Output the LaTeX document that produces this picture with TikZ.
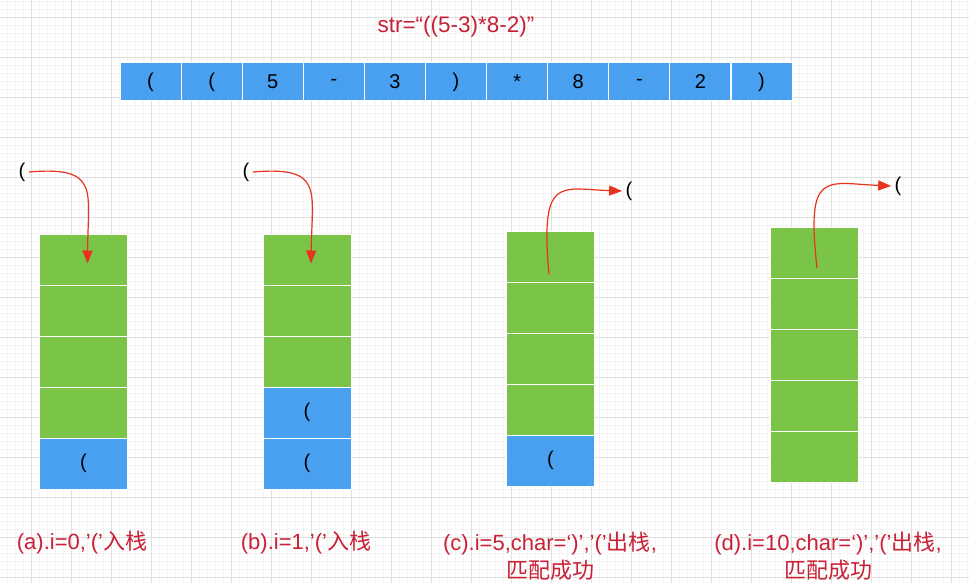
\documentclass[tikz,border=0pt]{standalone}
\usepackage{fontspec}
\setmainfont{Liberation Sans}
\newfontfamily\cjk{Noto Sans CJK SC}
\usetikzlibrary{arrows.meta, positioning}
\definecolor{cellblue}{RGB}{74,160,240}
\definecolor{cellgreen}{RGB}{122,196,72}
\definecolor{labelred}{RGB}{200,32,52}
\definecolor{flowred}{RGB}{232,52,30}
\definecolor{gridminor}{RGB}{243,243,243}
\definecolor{gridmajor}{RGB}{224,224,224}

\begin{document}
\begin{tikzpicture}[
  x=1pt, y=-1pt,
  every node/.style={font=\fontsize{20}{24}\selectfont},
  chr/.style={draw=white, line width=1pt, fill=cellblue, minimum width=61pt,
              minimum height=38pt, inner sep=0pt},
  slot/.style={draw=white, line width=1pt, fill=cellgreen, minimum width=88pt,
               minimum height=51pt, inner sep=0pt},
  pushed/.style={slot, fill=cellblue},
  caption/.style={text=labelred, align=center, font=\fontsize{22}{28}\selectfont},
  flow/.style={draw=flowred, line width=1.2pt, -{Triangle[length=13pt,width=10pt]}},
]
\useasboundingbox (0,0) rectangle (969,583);

% background grid
\foreach \gx in {7,15,...,967} \draw[gridminor, line width=0.5pt] (\gx,0) -- (\gx,583);
\foreach \gy in {1,9,...,583} \draw[gridminor, line width=0.5pt] (0,\gy) -- (969,\gy);
\foreach \gx in {31,71,...,951} \draw[gridmajor, line width=0.6pt] (\gx,0) -- (\gx,583);
\foreach \gy in {17,57,...,577} \draw[gridmajor, line width=0.6pt] (0,\gy) -- (969,\gy);

% the string
\node[text=labelred, font=\fontsize{22.5}{24}\selectfont] (title) at (456,27) {str=“((5-3)*8-2)”};
\foreach \t [count=\i] in {{(},{(},5,-,3,{)},*,8,-,2,{)}}
  \node[chr] (s\i) at ({120+61.1*(\i-0.5)},82) {\t};

% stacks
\foreach \s/\x/\y/\nb in {a/83.5/259.5/1, b/307/259.5/2, c/550.5/256.5/1, d/814.5/252.5/0}
  \foreach \k in {1,...,5}{
    \ifnum\k>\numexpr5-\nb\relax
      \node[pushed] (\s\k) at (\x,{\y+51*(\k-1)}) {(};
    \else
      \node[slot] (\s\k) at (\x,{\y+51*(\k-1)}) {};
    \fi
  };

% pushed / popped chars
\node (pa) at (22,172) {(};
\node (pb) at (246,172) {(};
\node (pc) at (629,191) {(};
\node (pd) at (898,186) {(};

\draw[flow] (pa.east) .. controls (100,166) and (88,190) .. ([xshift=4pt,yshift=-4pt]a1.center);
\draw[flow] (pb.east) .. controls (324,166) and (312,190) .. ([xshift=4pt,yshift=-4pt]b1.center);
\draw[flow] ([xshift=-1.5pt,yshift=-18pt]c1.center) .. controls (540,175) and (560,189) .. (pc.west);
\draw[flow] ([xshift=2.5pt,yshift=-15.5pt]d1.center) .. controls (806,170) and (825,183) .. (pd.west);

% captions
\node[caption] (la) at (82,543) {(a).i=0,’(’{\cjk 入栈}};
\node[caption] (lb) at (306,543) {(b).i=1,’(’{\cjk 入栈}};
\node[caption] (lc) at (550,556) {(c).i=5,char=‘)’,’(’{\cjk 出栈},\\{\cjk 匹配成功}};
\node[caption] (ld) at (828,556) {(d).i=10,char=‘)’,’(’{\cjk 出栈},\\{\cjk 匹配成功}};
\end{tikzpicture}
\end{document}
